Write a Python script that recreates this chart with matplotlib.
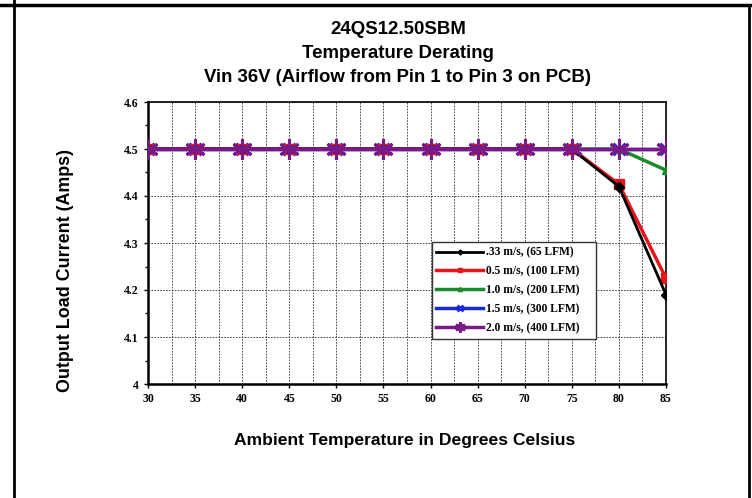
import matplotlib.pyplot as plt
from matplotlib.lines import Line2D
from matplotlib.ticker import MultipleLocator

temps = [30, 35, 40, 45, 50, 55, 60, 65, 70, 75, 80, 85]
i_033 = [4.5, 4.5, 4.5, 4.5, 4.5, 4.5, 4.5, 4.5, 4.5, 4.5, 4.42, 4.19]
i_05 = [4.5, 4.5, 4.5, 4.5, 4.5, 4.5, 4.5, 4.5, 4.5, 4.5, 4.425, 4.225]
i_10 = [4.5, 4.5, 4.5, 4.5, 4.5, 4.5, 4.5, 4.5, 4.5, 4.5, 4.5, 4.455]
i_15 = [4.5] * 12
i_20 = [4.5] * 12
labels = ['.33 m/s, (65 LFM)', '0.5 m/s, (100 LFM)', '1.0 m/s, (200 LFM)',
          '1.5 m/s, (300 LFM)', '2.0 m/s, (400 LFM)']

sans = ['Liberation Sans Narrow', 'Liberation Sans', 'DejaVu Sans']
serif = ['Liberation Serif', 'DejaVu Serif']

fig = plt.figure(figsize=(7.52, 4.98), dpi=100)

# outer frame lines
fig.add_artist(Line2D([0, 1], [1 - 5/498, 1 - 5/498], color='black', lw=2.5, transform=fig.transFigure))
fig.add_artist(Line2D([14/752, 14/752], [0, 1], color='black', lw=2, transform=fig.transFigure))
fig.add_artist(Line2D([749/752, 749/752], [0, 1 - 5/498], color='black', lw=2, transform=fig.transFigure))

ax = fig.add_axes([148/752, 1 - 384/498, 518/752, 282/498])

ax.plot(temps, i_033, color='black', lw=2, marker='D', ms=5, label=labels[0], zorder=5)
ax.plot(temps, i_05, color='#e8141c', lw=2.5, marker='s', ms=7, label=labels[1], zorder=4)
ax.plot(temps, i_10, color='#1a8a2a', lw=2.5, marker='^', ms=6, label=labels[2], zorder=3)
ax.plot(temps, i_15, color='#1a2ad8', lw=2.5, marker='x', ms=8, mew=2, label=labels[3], zorder=2)
ax.plot(temps, i_20, color='#7a1a8a', lw=2.5, marker=(6, 2, 0), ms=15, mew=2.2, label=labels[4], zorder=6)

ax.set_xlim(30, 85)
ax.set_ylim(4, 4.6)
ax.xaxis.set_major_locator(MultipleLocator(5))
ax.xaxis.set_minor_locator(MultipleLocator(2.5))
ax.yaxis.set_minor_locator(MultipleLocator(0.05))
ax.set_yticks([4, 4.1, 4.2, 4.3, 4.4, 4.5, 4.6])
ax.set_yticklabels(['4', '4.1', '4.2', '4.3', '4.4', '4.5', '4.6'])
ax.grid(True, which='major', axis='both', color='#333333', ls=(0, (2, 1.5)), lw=0.6)
ax.grid(True, which='minor', axis='x', color='#333333', ls=(0, (2, 1.5)), lw=0.6)
for lab in ax.get_xticklabels() + ax.get_yticklabels():
    lab.set_fontfamily(serif)
    lab.set_fontweight('bold')
    lab.set_fontsize(8.5)
ax.tick_params(which='both', direction='out', length=3, width=1)
ax.tick_params(which='minor', length=2)
ax.tick_params(axis='x', which='minor', length=0)
for s in ax.spines.values():
    s.set_linewidth(1.2)
ax.spines['left'].set_linewidth(1.8)
ax.spines['bottom'].set_linewidth(1.8)

leg = ax.legend(loc='lower left', bbox_to_anchor=(0.548, 0.16, 0.317, 0.336), mode='expand',
                prop={'family': serif, 'weight': 'bold', 'size': 8.3},
                frameon=True, fancybox=False, edgecolor='#333333', framealpha=1,
                handlelength=4.0, handletextpad=0.3, markerscale=0.5, borderaxespad=0,
                labelspacing=0.6)
leg.get_frame().set_linewidth(1)

cx = 398/752
fig.text(cx, 1 - 29/498, '24QS12.50SBM', ha='center', va='center', fontsize=13.4,
         fontweight='bold', family=sans)
fig.text(cx, 1 - 54/498, 'Temperature Derating', ha='center', va='center', fontsize=13.4,
         fontweight='bold', family=sans)
fig.text(cx, 1 - 78/498, 'Vin 36V (Airflow from Pin 1 to Pin 3 on PCB)', ha='center', va='center',
         fontsize=13.4, fontweight='bold', family=sans)
fig.text(65/752, 1 - 270/498, 'Output Load Current (Amps)', rotation=90, ha='center', va='center',
         fontsize=12.9, fontweight='bold', family=sans)
fig.text(405/752, 1 - 440/498, 'Ambient Temperature in Degrees Celsius', ha='center', va='center',
         fontsize=12.6, fontweight='bold', family=sans)

fig.savefig('out.png', dpi=100)
